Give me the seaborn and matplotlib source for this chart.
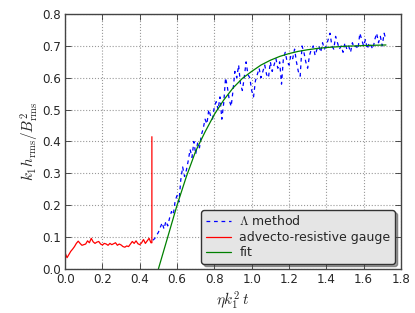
import numpy as np
import pandas as pd
import matplotlib
matplotlib.use('Agg')
import matplotlib.pyplot as plt
import seaborn as sns

# ### Data

# advecto-resistive gauge (red), x = 0.00 ... 0.46 step 0.01, then a jump at 0.465
red_x = [round(0.01 * i, 2) for i in range(47)] + [0.465, 0.465]
red_y = [0.050, 0.035, 0.045, 0.055, 0.062, 0.070, 0.080, 0.087, 0.080, 0.074,
         0.076, 0.078, 0.088, 0.082, 0.096, 0.085, 0.080, 0.084, 0.086, 0.078,
         0.075, 0.080, 0.078, 0.074, 0.080, 0.076, 0.079, 0.082, 0.074, 0.078,
         0.075, 0.070, 0.068, 0.072, 0.070, 0.078, 0.086, 0.080, 0.088, 0.079,
         0.076, 0.082, 0.092, 0.080, 0.088, 0.096, 0.082, 0.082, 0.415]

# Lambda method (blue), x = 0.47 ... 1.72 step 0.01
blue_start, blue_step = 0.47, 0.01
blue_y = [0.090, 0.095, 0.105, 0.115, 0.130, 0.145, 0.125, 0.150, 0.135, 0.160,
          0.180, 0.170, 0.215, 0.230, 0.210, 0.280, 0.320, 0.290, 0.310, 0.340,
          0.375, 0.350, 0.400, 0.360, 0.395, 0.380, 0.420, 0.440, 0.470, 0.455,
          0.500, 0.480, 0.470, 0.510, 0.525, 0.500, 0.540, 0.470, 0.520, 0.600,
          0.570, 0.530, 0.510, 0.560, 0.620, 0.600, 0.640, 0.580, 0.560, 0.600,
          0.650, 0.610, 0.600, 0.560, 0.540, 0.590, 0.610, 0.630, 0.600, 0.620,
          0.640, 0.610, 0.600, 0.650, 0.620, 0.640, 0.660, 0.630, 0.650, 0.580,
          0.660, 0.680, 0.650, 0.640, 0.670, 0.660, 0.690, 0.650, 0.620, 0.605,
          0.700, 0.680, 0.650, 0.630, 0.670, 0.690, 0.700, 0.670, 0.690, 0.700,
          0.680, 0.710, 0.690, 0.700, 0.720, 0.740, 0.700, 0.690, 0.730, 0.710,
          0.690, 0.700, 0.680, 0.710, 0.690, 0.700, 0.680, 0.710, 0.695, 0.700,
          0.690, 0.740, 0.720, 0.700, 0.720, 0.690, 0.710, 0.700, 0.690, 0.720,
          0.740, 0.710, 0.730, 0.700, 0.740, 0.720]
blue_x = [round(blue_start + blue_step * i, 2) for i in range(len(blue_y))]

# fit (green)
fit_x = [0.50, 0.55, 0.60, 0.65, 0.70, 0.75, 0.80, 0.85, 0.90, 0.95, 1.00,
         1.05, 1.10, 1.15, 1.20, 1.25, 1.30, 1.35, 1.40, 1.45, 1.50, 1.55,
         1.60, 1.65, 1.72]
fit_y = [0.000, 0.100, 0.200, 0.290, 0.370, 0.430, 0.485, 0.530, 0.568, 0.598,
         0.620, 0.640, 0.655, 0.667, 0.676, 0.683, 0.688, 0.692, 0.695, 0.697,
         0.699, 0.700, 0.701, 0.702, 0.703]

x_ticks = [0.0, 0.2, 0.4, 0.6, 0.8, 1.0, 1.2, 1.4, 1.6, 1.8]
y_ticks = [0.0, 0.1, 0.2, 0.3, 0.4, 0.5, 0.6, 0.7, 0.8]

# ### Set-up
sns.set_style('ticks')
plt.rcParams['font.family'] = ['DejaVu Sans']
plt.rcParams['mathtext.fontset'] = 'cm'
plt.rcParams['xtick.direction'] = 'in'
plt.rcParams['ytick.direction'] = 'in'

fig = plt.figure(figsize=(4.15, 3.13), dpi=100)
ax = fig.add_axes([0.157, 0.141, 0.809, 0.814])

sns.lineplot(x=blue_x, y=blue_y, ax=ax, color='#0000ff', lw=0.9,
             dashes=False, sort=False, estimator=None, label=r'$\Lambda$ method')
ax.lines[-1].set_dashes((3, 3))
sns.lineplot(x=red_x, y=red_y, ax=ax, color='#ff0000', lw=0.9,
             sort=False, estimator=None, label='advecto-resistive gauge')
sns.lineplot(x=fit_x, y=fit_y, ax=ax, color='#008000', lw=0.9,
             sort=False, estimator=None, label='fit')

ax.set_xlim(0, 1.8)
ax.set_ylim(0, 0.8)
ax.set_xticks(x_ticks)
ax.set_yticks(y_ticks)
ax.tick_params(labelsize=8.6, top=True, right=True, length=4, width=0.6,
               color='#333333', pad=3)
ax.grid(True, linestyle=':', color='#999999', linewidth=0.8)
for s in ax.spines.values():
    s.set_color('#444444')
    s.set_linewidth(1.0)

ax.set_xlabel(r'$\eta k_1^2\, t$', fontsize=11, labelpad=2)
ax.set_ylabel(r'$k_1 h_{\rm rms}/B_{\rm rms}^2$', fontsize=11, labelpad=1)

leg = ax.legend(loc='lower right', bbox_to_anchor=(0.982, 0.02),
                borderaxespad=0, fontsize=9, frameon=True, fancybox=True,
                shadow=True, handlelength=2.0, borderpad=0.35,
                labelspacing=0.2, handletextpad=0.7)
leg.get_frame().set_facecolor('#e5e5e5')
leg.get_frame().set_edgecolor('#333333')
leg.get_frame().set_alpha(1.0)

fig.savefig('out.png', dpi=100)
